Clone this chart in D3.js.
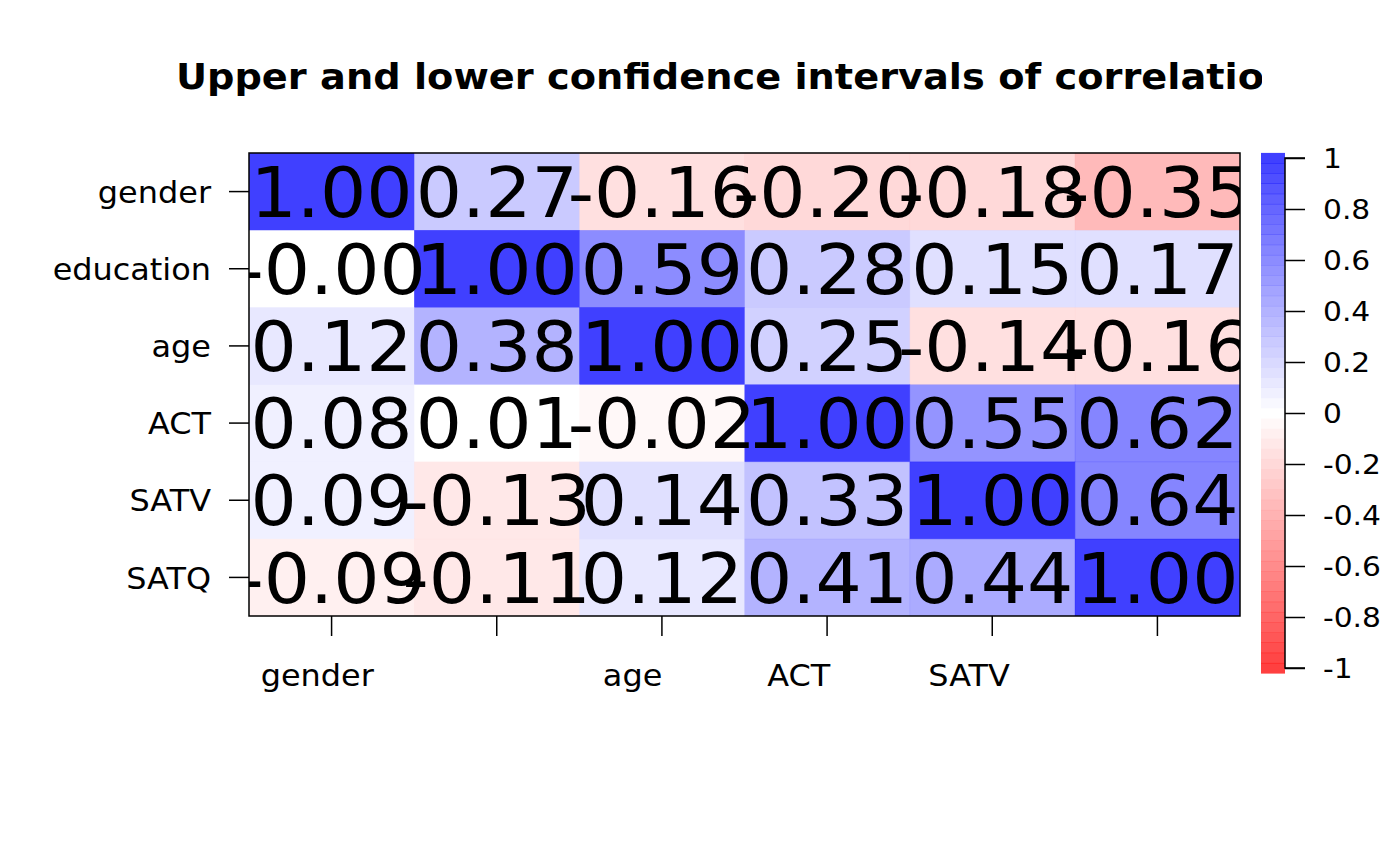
<!DOCTYPE html>
<html>
<head>
<meta charset="utf-8">
<script src="https://cdn.jsdelivr.net/npm/d3@7"></script>
<style>
  body { margin: 0; background: #fff; }
  text { font-family: "DejaVu Sans", sans-serif; }
</style>
</head>
<body>
<div id="chart"></div>
<script>
// variables, top to bottom / left to right
var vars = ["gender", "education", "age", "ACT", "SATV", "SATQ"];
// x labels that R actually printed (the others were dropped for overlap)
var xLabels = ["gender", "", "age", "ACT", "SATV", ""];

// one row per variable
var rowGender    = [1.00, 0.27, -0.16, -0.20, -0.18, -0.35];
var rowEducation = [-0.004, 1.00, 0.59, 0.28, 0.15, 0.17];
var rowAge       = [0.12, 0.38, 1.00, 0.25, -0.14, -0.16];
var rowACT       = [0.08, 0.01, -0.02, 1.00, 0.55, 0.62];
var rowSATV      = [0.09, -0.13, 0.14, 0.33, 1.00, 0.64];
var rowSATQ      = [-0.09, -0.11, 0.12, 0.41, 0.44, 1.00];

var legendTicks = [1, 0.8, 0.6, 0.4, 0.2, 0, -0.2, -0.4, -0.6, -0.8, -1];
var title = "Upper and lower confidence intervals of correlations";

var rows = [rowGender, rowEducation, rowAge, rowACT, rowSATV, rowSATQ];

// svg container
var width = 1400;
var height = 866;

// plot area
var plot = { left: 249, right: 1240, top: 153, bottom: 616 };

var svg = d3.select("#chart").append("svg")
    .attr("width", width)
    .attr("height", height);

var defs = svg.append("defs");
defs.append("clipPath").attr("id", "plotClip")
  .append("rect")
    .attr("x", plot.left).attr("y", plot.top)
    .attr("width", plot.right - plot.left)
    .attr("height", plot.bottom - plot.top);
defs.append("clipPath").attr("id", "figClip")
  .append("rect")
    .attr("x", 0).attr("y", 0)
    .attr("width", 1262).attr("height", height);

// the png text is a bit wider than DejaVu, stretch it a little
function stretched(sel, x, y, sx) {
    sel.attr("transform", (d, i) => `translate(${x(d, i)},${y(d, i)}) scale(${sx},1)`);
}

// 51 colours from red through white to blue, like colorRampPalette
var nColors = 51;
var ramp = d3.range(nColors).map(function (i) {
    var t = i / (nColors - 1);
    if (t < 0.5) {
        var s = t / 0.5;
        return d3.rgb(255, Math.round(255 * s), Math.round(255 * s));
    }
    var s2 = (t - 0.5) / 0.5;
    return d3.rgb(Math.round(255 * (1 - s2)), Math.round(255 * (1 - s2)), 255);
});
var colorScale = d3.scaleQuantize().domain([-1, 1]).range(ramp);

var xScale = d3.scaleBand().domain(vars).range([plot.left, plot.right]);
var yScale = d3.scaleBand().domain(vars).range([plot.top, plot.bottom]);

var cells = [];
rows.forEach(function (r, i) {
    r.forEach(function (v, j) {
        cells.push({ row: vars[i], col: vars[j], value: v });
    });
});

var cellGroup = svg.append("g").attr("clip-path", "url(#plotClip)");

cellGroup.selectAll("rect")
    .data(cells)
    .enter()
    .append("rect")
    .attr("x", d => xScale(d.col))
    .attr("y", d => yScale(d.row))
    .attr("width", xScale.bandwidth() + 0.5)
    .attr("height", yScale.bandwidth() + 0.5)
    .attr("fill", d => colorScale(d.value))
    .attr("fill-opacity", 0.75);

var cellFont = 70;
cellGroup.selectAll(".cellText")
    .data(cells)
    .enter()
    .append("text")
    .attr("class", "cellText")
    .attr("text-anchor", "middle")
    .attr("font-size", cellFont + "px")
    .attr("fill", "black")
    .text(d => d.value.toFixed(2))
    .call(stretched,
        d => xScale(d.col) + xScale.bandwidth() / 2,
        d => yScale(d.row) + yScale.bandwidth() / 2 + cellFont * 0.36,
        1.04);

// box
svg.append("rect")
    .attr("x", plot.left).attr("y", plot.top)
    .attr("width", plot.right - plot.left)
    .attr("height", plot.bottom - plot.top)
    .attr("fill", "none")
    .attr("stroke", "black")
    .attr("stroke-width", 1.5);

// y axis
var yAxis = svg.append("g");
yAxis.selectAll("line")
    .data(vars)
    .enter()
    .append("line")
    .attr("x1", plot.left - 20).attr("x2", plot.left)
    .attr("y1", d => yScale(d) + yScale.bandwidth() / 2)
    .attr("y2", d => yScale(d) + yScale.bandwidth() / 2)
    .attr("stroke", "black").attr("stroke-width", 1.5);
yAxis.selectAll("text")
    .data(vars)
    .enter()
    .append("text")
    .attr("dy", "0.36em")
    .attr("text-anchor", "end")
    .attr("font-size", "31px")
    .text(d => d)
    .call(stretched, () => plot.left - 38, d => yScale(d) + yScale.bandwidth() / 2, 1.03);

// x axis
var labelSx = 1.03;
var xAxis = svg.append("g");
xAxis.selectAll("line")
    .data(vars)
    .enter()
    .append("line")
    .attr("x1", d => xScale(d) + xScale.bandwidth() / 2)
    .attr("x2", d => xScale(d) + xScale.bandwidth() / 2)
    .attr("y1", plot.bottom).attr("y2", plot.bottom + 20)
    .attr("stroke", "black").attr("stroke-width", 1.5);
var xText = xAxis.selectAll("text")
    .data(vars)
    .enter()
    .append("text")
    .attr("text-anchor", "start")
    .attr("font-size", "31px")
    .text((d, i) => xLabels[i]);
// R put these labels a little left of their ticks
xText.each(function (d) {
    var w = this.getComputedTextLength() * labelSx;
    var x0 = xScale(d) + xScale.bandwidth() / 2 - 46 - 0.22 * w;
    d3.select(this).attr("transform", `translate(${x0},${plot.bottom + 70}) scale(${labelSx},1)`);
});

// title, clipped at the edge of the figure region like in R
svg.append("g").attr("clip-path", "url(#figClip)")
  .append("text")
    .attr("text-anchor", "middle")
    .attr("font-size", "35px")
    .attr("font-weight", "bold")
    .text(title)
    .call(stretched, () => 745, () => 89, 1.095);

// colour bar
var bar = { left: 1261, right: 1285 };
var legendScale = d3.scaleLinear().domain([-1, 1]).range([668, 158]);
var step = 2 / (nColors - 1);
var barGroup = svg.append("g");
barGroup.selectAll("rect")
    .data(ramp)
    .enter()
    .append("rect")
    .attr("x", bar.left)
    .attr("width", bar.right - bar.left)
    .attr("y", (c, i) => legendScale(-1 + i * step + step / 2))
    .attr("height", legendScale(-step / 2) - legendScale(step / 2) + 0.5)
    .attr("fill", c => c)
    .attr("fill-opacity", 0.75);

var legendAxis = d3.axisRight(legendScale)
    .tickValues(legendTicks)
    .tickSize(20)
    .tickFormat(d => String(d));

var la = svg.append("g")
    .attr("transform", `translate(${bar.right}, 0)`)
    .call(legendAxis);
la.select(".domain").attr("d", `M20,${legendScale(1)}H0V${legendScale(-1)}H20`).attr("stroke-width", 1.5);
la.selectAll(".tick line").attr("stroke-width", 1.5);
la.selectAll(".tick text")
    .attr("x", null)
    .attr("dy", "0.36em")
    .attr("font-size", "27px")
    .attr("font-family", "DejaVu Sans, sans-serif")
    .attr("transform", "translate(38,0) scale(1.1,1)");
</script>
</body>
</html>
